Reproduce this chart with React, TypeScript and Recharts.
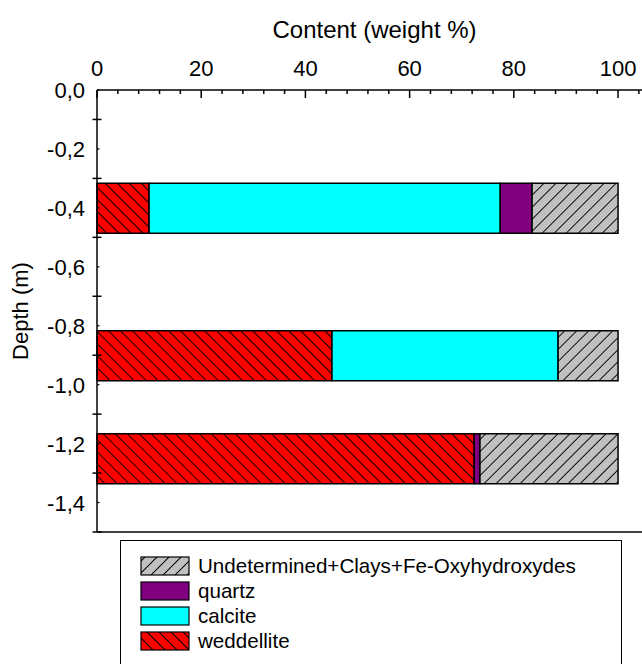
import { BarChart, Bar, XAxis, YAxis, Legend } from "recharts";

// depth of each sample (m) and mineral content (weight %)
const depths = [-0.4, -0.9, -1.25];
const weddellite = [10.0, 45.1, 72.4];
const calcite = [67.4, 43.4, 0];
const quartz = [6.1, 0, 1.1];
const undetermined = [16.5, 11.5, 26.5];

const xTicks = [0, 4, 8, 12, 16, 20, 24, 28, 32, 36, 40, 44, 48, 52, 56, 60, 64, 68, 72, 76, 80, 84, 88, 92, 96, 100, 104];
const xLabels = [0, 20, 40, 60, 80, 100];
const yTicks = [0, -0.1, -0.2, -0.3, -0.4, -0.5, -0.6, -0.7, -0.8, -0.9, -1.0, -1.1, -1.2, -1.3, -1.4, -1.5];
const yLabels = [0, -0.2, -0.4, -0.6, -0.8, -1.0, -1.2, -1.4];

const series = [
  { key: "weddellite", name: "weddellite", fill: "url(#hatchRed)" },
  { key: "calcite", name: "calcite", fill: "#00FFFF" },
  { key: "quartz", name: "quartz", fill: "#800080" },
  { key: "undetermined", name: "Undetermined+Clays+Fe-Oxyhydroxydes", fill: "url(#hatchGray)" },
];

const data = depths.map((depth, i) => ({
  depth,
  weddellite: weddellite[i],
  calcite: calcite[i],
  quartz: quartz[i],
  undetermined: undetermined[i],
}));

const TICK_FONT = 22;

function TopTick(props: any) {
  const { x, y, payload } = props;
  const major = xLabels.includes(payload.value);
  return (
    <g>
      <line x1={x} x2={x} y1={y} y2={y + (major ? 8 : 4)} stroke="#000" strokeWidth={1.5} />
      {major && (
        <text x={x} y={y - 14} textAnchor="middle" fontSize={TICK_FONT} fill="#000">
          {payload.value}
        </text>
      )}
    </g>
  );
}

function BottomTick(props: any) {
  const { x, y } = props;
  return <line x1={x} x2={x} y1={y} y2={y - 3} stroke="#000" strokeWidth={1.2} />;
}

function LeftTick(props: any) {
  const { x, y, payload } = props;
  const v = payload.value;
  const labelled = yLabels.some((l) => Math.abs(l - v) < 1e-9);
  if (!labelled) {
    return <line x1={x - 4.5} x2={x + 4.5} y1={y} y2={y} stroke="#000" strokeWidth={1.5} />;
  }
  return (
    <g>
      <line x1={x} x2={x + 2.5} y1={y} y2={y} stroke="#000" strokeWidth={1.2} />
      <text x={x - 12} y={y + 8} textAnchor="end" fontSize={TICK_FONT} fill="#000">
        {v.toFixed(1).replace(".", ",")}
      </text>
    </g>
  );
}

function DepthLabel() {
  return (
    <text x={20} y={311} transform="rotate(-90 20 311)" textAnchor="middle" dominantBaseline="central" fontSize={22} fill="#000">
      Depth (m)
    </text>
  );
}

function LegendBox() {
  const items = [...series].reverse();
  return (
    <div
      style={{
        border: "1px solid #000",
        boxSizing: "border-box",
        width: 502,
        height: 126,
        paddingTop: 12,
        paddingLeft: 19,
        background: "#fff",
      }}
    >
      {items.map((s) => (
        <div key={s.key} style={{ display: "flex", alignItems: "center", height: 25 }}>
          <svg width={50} height={20} style={{ display: "block" }}>
            <rect x={1} y={1} width={48} height={18} fill={s.fill} stroke="#000" strokeWidth={1.2} />
          </svg>
          <span style={{ marginLeft: 8, fontSize: 20.6, color: "#000", lineHeight: "20px" }}>{s.name}</span>
        </div>
      ))}
    </div>
  );
}

export default function App() {
  return (
    <div
      style={{
        position: "absolute",
        left: 0,
        top: 0,
        width: 642,
        height: 664,
        overflow: "hidden",
        background: "#fff",
        fontFamily: "'Liberation Sans', Arial, sans-serif",
      }}
    >
      <BarChart
        width={642}
        height={664}
        data={data}
        layout="vertical"
        margin={{ top: 60, right: 0, bottom: 122, left: 37 }}
      >
        <defs>
          <pattern id="hatchRed" patternUnits="userSpaceOnUse" width={8.5} height={8.5} patternTransform="rotate(-45)">
            <rect width={8.5} height={8.5} fill="#FF0000" />
            <line x1={4.25} y1={0} x2={4.25} y2={8.5} stroke="#000" strokeWidth={1} />
          </pattern>
          <pattern id="hatchGray" patternUnits="userSpaceOnUse" width={8.5} height={8.5} patternTransform="rotate(45)">
            <rect width={8.5} height={8.5} fill="#C0C0C0" />
            <line x1={4.25} y1={0} x2={4.25} y2={8.5} stroke="#000" strokeWidth={1} />
          </pattern>
        </defs>
        <XAxis
          type="number"
          orientation="top"
          domain={[0, 104.6]}
          ticks={xTicks}
          interval={0}
          height={30}
          tickSize={0}
          tickMargin={0}
          tickLine={false}
          axisLine={{ stroke: "#000", strokeWidth: 1.5 }}
          tick={(p: any) => <TopTick {...p} />}
          label={{ value: "Content (weight %)", position: "top", offset: 22, dx: 5, fontSize: 24, fill: "#000" }}
        />
        <XAxis
          xAxisId="bottom"
          type="number"
          orientation="bottom"
          domain={[0, 104.6]}
          ticks={xTicks}
          interval={0}
          height={10}
          tickSize={0}
          tickMargin={0}
          tickLine={false}
          axisLine={{ stroke: "#000", strokeWidth: 1.5 }}
          tick={(p: any) => <BottomTick {...p} />}
        />
        <YAxis
          type="number"
          dataKey="depth"
          domain={[-1.5, 0]}
          reversed
          ticks={yTicks}
          interval={0}
          width={60}
          tickSize={0}
          tickMargin={0}
          tickLine={false}
          axisLine={{ stroke: "#000", strokeWidth: 1.5 }}
          tick={(p: any) => <LeftTick {...p} />}
          label={{ content: () => <DepthLabel /> }}
        />
        <Legend
          layout="vertical"
          verticalAlign="middle"
          align="center"
          wrapperStyle={{ left: 120, top: 540, width: 502, height: 126 }}
          content={() => <LegendBox />}
        />
        {series.map((s) => (
          <Bar
            key={s.key}
            dataKey={s.key}
            name={s.name}
            stackId="a"
            fill={s.fill}
            stroke="#000"
            strokeWidth={1.5}
            barSize={50}
            isAnimationActive={false}
          />
        ))}
      </BarChart>
    </div>
  );
}
